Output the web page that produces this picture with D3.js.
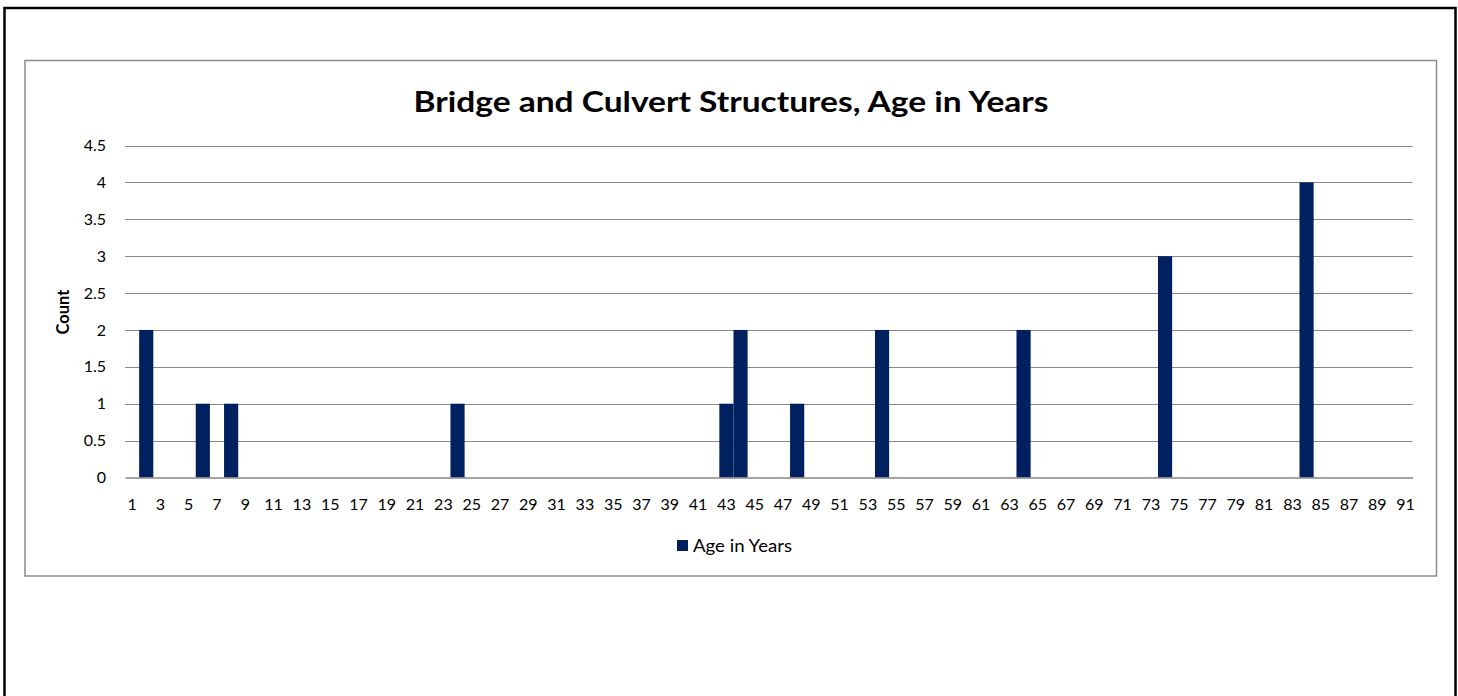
<!DOCTYPE html>
<html>
<head>
<meta charset="utf-8">
<script src="https://cdn.jsdelivr.net/npm/d3@7"></script>
<style>
  html, body { margin: 0; padding: 0; background: #fff; }
  svg { display: block; }
  text { font-family: Lato, "Open Sans", sans-serif; fill: #000; }
</style>
</head>
<body>
<svg id="chart" width="1458" height="696"></svg>
<script>
// Ages 1..91 (years), count of structures per age
const ages = d3.range(1, 92);
const ageCounts = [
  [2, 2], [6, 1], [8, 1], [24, 1], [43, 1], [44, 2],
  [48, 1], [54, 2], [64, 2], [74, 3], [84, 4]
];
const yTicks = [0, 0.5, 1, 1.5, 2, 2.5, 3, 3.5, 4, 4.5];
const xTickLabels = ages.filter(a => a % 2 === 1);
const seriesName = "Age in Years";
const chartTitle = "Bridge and Culvert Structures, Age in Years";
const yTitle = "Count";

const countByAge = new Map(ageCounts);
const series = ages.map(a => ({ age: a, count: countByAge.get(a) || 0 }));

const svg = d3.select("#chart");
const barColor = "#002060";
const tickFont = "16px";

// outer page frame
svg.append("rect")
  .attr("x", 4.5).attr("y", 8).attr("width", 1451).attr("height", 700)
  .attr("fill", "none").attr("stroke", "#000").attr("stroke-width", 2.5);

// chart area frame
svg.append("rect")
  .attr("x", 25).attr("y", 60.5).attr("width", 1411.5).attr("height", 515.5)
  .attr("fill", "#fff").attr("stroke", "#8c8c8c").attr("stroke-width", 1.5);

const plot = { left: 125, right: 1412.7, top: 145.5, bottom: 477.5 };

const x = d3.scaleBand()
  .domain(ages)
  .range([plot.left, plot.right])
  .paddingInner(0).paddingOuter(0);

const y = d3.scaleLinear()
  .domain([0, 4.5])
  .range([plot.bottom, plot.top]);

// horizontal gridlines
svg.append("g")
  .selectAll("line")
  .data(yTicks.filter(t => t > 0))
  .join("line")
  .attr("x1", plot.left).attr("x2", plot.right)
  .attr("y1", d => Math.round(y(d)) + 0.5).attr("y2", d => Math.round(y(d)) + 0.5)
  .attr("stroke", "#8a8a8a").attr("stroke-width", 1);

// bars
svg.append("g")
  .selectAll("rect")
  .data(series.filter(d => d.count > 0))
  .join("rect")
  .attr("x", d => x(d.age))
  .attr("width", x.bandwidth())
  .attr("y", d => y(d.count))
  .attr("height", d => y(0) - y(d.count))
  .attr("fill", barColor);

// y axis labels
const yAxis = d3.axisLeft(y)
  .tickValues(yTicks)
  .tickSize(0)
  .tickPadding(19)
  .tickFormat(d3.format("~g"));
const yg = svg.append("g")
  .attr("transform", `translate(${plot.left},0)`)
  .call(yAxis);
yg.select(".domain").remove();
yg.selectAll("text")
  .style("font-family", "Lato, 'Open Sans', sans-serif")
  .style("font-size", tickFont)
  .attr("fill", "#000");

// x axis
const xAxis = d3.axisBottom(x)
  .tickValues(xTickLabels)
  .tickSize(0)
  .tickPadding(21);
const xg = svg.append("g")
  .attr("transform", `translate(0,${plot.bottom})`)
  .call(xAxis);
xg.select(".domain")
  .attr("stroke", "#868686").attr("stroke-width", 1.5);
xg.selectAll("text")
  .style("font-family", "Lato, 'Open Sans', sans-serif")
  .style("font-size", tickFont)
  .attr("fill", "#000");

// title
svg.append("text")
  .attr("x", 731).attr("y", 112)
  .attr("text-anchor", "middle")
  .attr("textLength", 635).attr("lengthAdjust", "spacingAndGlyphs")
  .style("font-size", "29px").style("font-weight", "bold")
  .text(chartTitle);

// y axis title
svg.append("text")
  .attr("transform", "translate(69,312) rotate(-90)")
  .attr("text-anchor", "middle")
  .style("font-size", "16.5px").style("font-weight", "bold")
  .text(yTitle);

// legend
const legend = svg.append("g").attr("transform", "translate(677,540)");
legend.append("rect")
  .attr("x", 0).attr("y", 0).attr("width", 11).attr("height", 11)
  .attr("fill", barColor);
legend.append("text")
  .attr("x", 16).attr("y", 12)
  .attr("textLength", 99).attr("lengthAdjust", "spacingAndGlyphs")
  .style("font-size", "17px")
  .text(seriesName);
</script>
</body>
</html>
